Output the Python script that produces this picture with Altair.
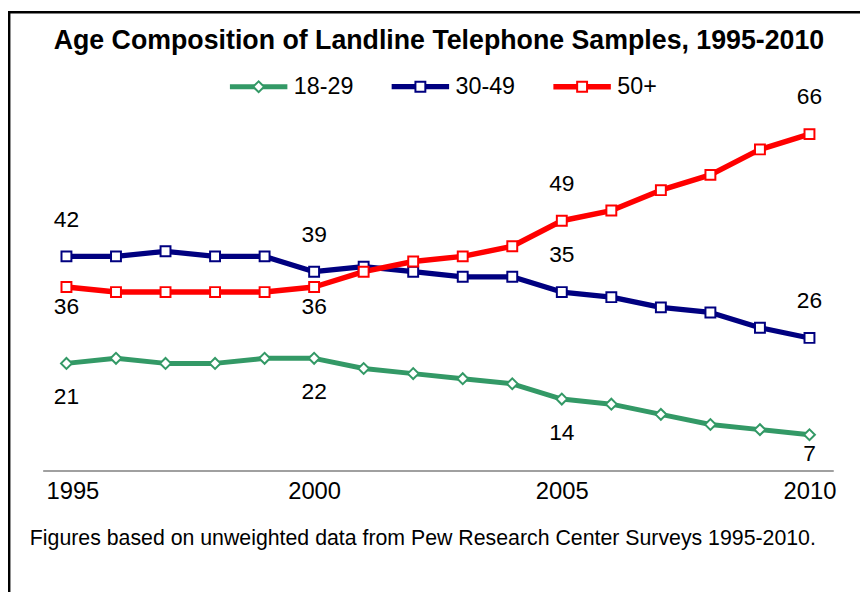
import altair as alt
import pandas as pd

# ---------------- data ----------------
years = list(range(1995, 2011))
series_names = ["18-29", "30-49", "50+"]
v_18_29 = [21, 22, 21, 21, 22, 22, 20, 19, 18, 17, 14, 13, 11, 9, 8, 7]
v_30_49 = [42, 42, 43, 42, 42, 39, 40, 39, 38, 38, 35, 34, 32, 31, 28, 26]
v_50_plus = [36, 35, 35, 35, 35, 36, 39, 41, 42, 44, 49, 51, 55, 58, 63, 66]
label_years = [1995, 2000, 2005, 2010]
tick_values = [1995, 2000, 2005, 2010]
title_text = "Age Composition of Landline Telephone Samples, 1995-2010"
note_text = "Figures based on unweighted data from Pew Research Center Surveys 1995-2010."
colors = ["#339966", "#000080", "#FF0000"]
line_widths = [5, 5.5, 3]

rows = []
for name, vals in zip(series_names, [v_18_29, v_30_49, v_50_plus]):
    for yr, v in zip(years, vals):
        rows.append({"series": name, "year": yr, "value": v})
df = pd.DataFrame(rows)
legend_df = pd.DataFrame({"series": series_names})

FONT = "Liberation Sans"

# ---------------- shared encodings ----------------
x_scale = alt.Scale(domain=[1994.52, 2010.48], nice=False, zero=False)
x_axis = alt.X(
    "year:Q", scale=x_scale,
    axis=alt.Axis(
        values=tick_values, format="d", title=None, grid=False, ticks=False,
        labelFontSize=24, labelFont=FONT, labelColor="black",
        domainColor="#808080", domainWidth=1.5, labelPadding=9,
        labelOffset={"condition": {"test": "datum.value == 1995", "value": 6}, "value": 0},
    ),
)
x_enc = alt.X("year:Q", scale=x_scale, axis=None)
y_enc = alt.Y("value:Q", scale=alt.Scale(domain=[0, 70], nice=False, zero=True), axis=None)
stroke_scale = alt.Scale(domain=series_names, range=colors)
sw_scale = alt.Scale(domain=series_names, range=line_widths)

base = alt.Chart(df)

lines = base.mark_line(strokeJoin="round").encode(
    x=x_axis, y=y_enc,
    stroke=alt.Stroke("series:N", scale=stroke_scale, legend=None),
    strokeWidth=alt.StrokeWidth("series:N", scale=sw_scale, legend=None),
    detail="series:N",
)

squares = base.transform_filter(alt.FieldOneOfPredicate(field="series", oneOf=["30-49", "50+"])).mark_point(
    shape="square", size=100, fill="white", fillOpacity=1, opacity=1, strokeWidth=2
).encode(x=x_enc, y=y_enc, stroke=alt.Stroke("series:N", scale=stroke_scale, legend=None))

diamonds = base.transform_filter(alt.FieldEqualPredicate(field="series", equal="18-29")).mark_point(
    shape="diamond", size=120, fill="white", fillOpacity=1, opacity=1, strokeWidth=2
).encode(x=x_enc, y=y_enc, stroke=alt.Stroke("series:N", scale=stroke_scale, legend=None))


def labels(series, yrs, dy):
    return base.transform_filter(
        alt.FieldEqualPredicate(field="series", equal=series)
    ).transform_filter(
        alt.FieldOneOfPredicate(field="year", oneOf=yrs)
    ).mark_text(fontSize=23, font=FONT, color="black", dy=dy, baseline="middle", align="center").encode(
        x=x_enc, y=y_enc, text="value:Q"
    )


lab_layers = [
    labels("30-49", label_years, -37),
    labels("50+", [1995, 2000], 20),
    labels("50+", [2005, 2010], -37),
    labels("18-29", [1995, 2000, 2005], 34),
    labels("18-29", [2010], 20),
]

# ---------------- legend (built from marks) ----------------
leg_x = alt.X("series:N", scale=alt.Scale(type="point", domain=series_names, range=[218, 544.5], padding=0), axis=None)
leg_y = alt.value(-27.3)
leg_base = alt.Chart(legend_df)
leg_lines = leg_base.mark_point(shape="M-1,0H1", size=3364, filled=False, opacity=1, strokeCap="butt").encode(
    x=leg_x, y=leg_y,
    stroke=alt.Stroke("series:N", scale=stroke_scale, legend=None),
    strokeWidth=alt.StrokeWidth("series:N", scale=sw_scale, legend=None),
)
leg_sq = leg_base.transform_filter(alt.FieldOneOfPredicate(field="series", oneOf=["30-49", "50+"])).mark_point(
    shape="square", size=100, fill="white", fillOpacity=1, opacity=1, strokeWidth=2
).encode(x=leg_x, y=leg_y, stroke=alt.Stroke("series:N", scale=stroke_scale, legend=None))
leg_dia = leg_base.transform_filter(alt.FieldEqualPredicate(field="series", equal="18-29")).mark_point(
    shape="diamond", size=120, fill="white", fillOpacity=1, opacity=1, strokeWidth=2
).encode(x=leg_x, y=leg_y, stroke=alt.Stroke("series:N", scale=stroke_scale, legend=None))
leg_text = leg_base.mark_text(
    align="left", baseline="middle", dx=35.5, fontSize=23.5, font=FONT, color="black"
).encode(x=leg_x, y=leg_y, text="series:N")

one = alt.Data(values=[{"k": 1}])
frame = alt.Chart(one).mark_rect(fill="transparent", stroke="black", strokeWidth=2.5).encode(
    x=alt.value(-33.8), x2=alt.value(950), y=alt.value(-102.5), y2=alt.value(700)
)
title = alt.Chart(one).mark_text(
    text=title_text, font=FONT, fontSize=27, fontWeight="bold", color="black",
    align="center", baseline="alphabetic"
).encode(x=alt.value(400), y=alt.value(-65))
note = alt.Chart(one).mark_text(
    text=note_text, font=FONT, fontSize=21.5, color="black", align="left", baseline="alphabetic"
).encode(x=alt.value(-13), y=alt.value(435))

chart = alt.layer(
    frame, lines, squares, diamonds, *lab_layers, leg_lines, leg_sq, leg_dia, leg_text, title, note
).resolve_scale(x="independent").properties(
    width=798, height=360,
    autosize=alt.AutoSizeParams(type="none"),
    padding={"left": 35, "top": 104, "right": 27, "bottom": 120},
    background="white",
).configure_view(stroke=None)

chart.save("out.html", embed_options={"renderer": "svg", "actions": False})
